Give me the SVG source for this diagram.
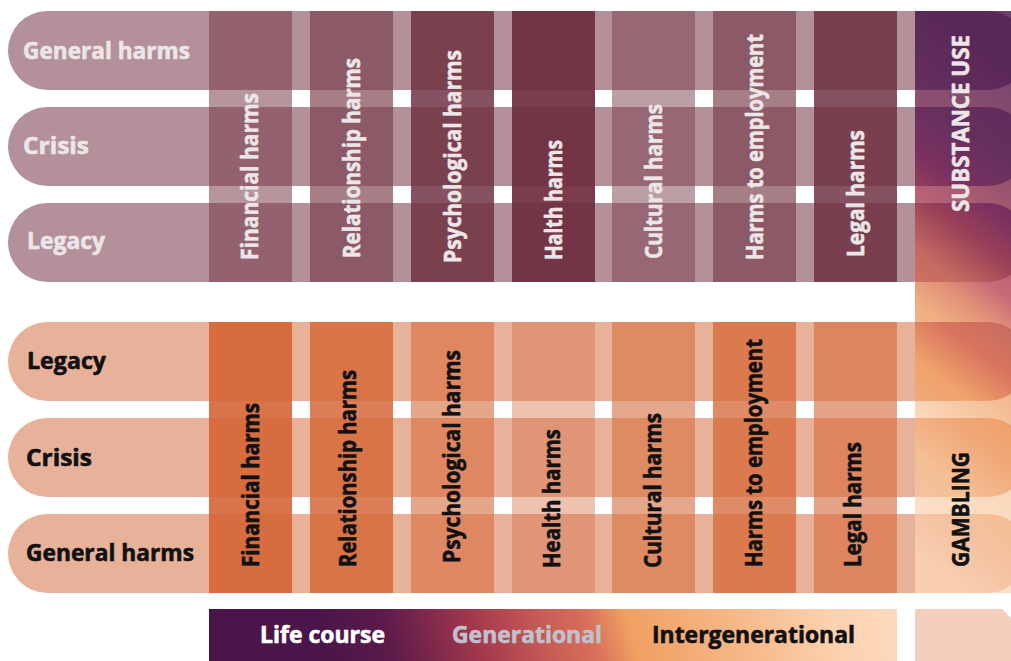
<svg xmlns="http://www.w3.org/2000/svg" width="1011" height="661" viewBox="0 0 1011 661">
  <defs>
    <style>
      .lbl { font-family: "Open Sans", Lato, "Liberation Sans", sans-serif; font-weight: 700; font-size: 23px; stroke-width: 0.6px; stroke-linejoin: round; }
      .vlbl { font-family: "Open Sans", Lato, "Liberation Sans", sans-serif; font-weight: 700; font-size: 24px; stroke-width: 0.6px; stroke-linejoin: round; }
      .light { fill: #ece6e8; stroke: #ece6e8; }
      .dark { fill: #111111; stroke: #111111; }
      .white { fill: #ffffff; stroke: #ffffff; }
      .lav { fill: #c2c1cd; stroke: #c2c1cd; }
      .pillTop { fill: #b4919a; }
      .pillBot { fill: #e8b29a; }
    </style>
    <!-- diagonal wash for the side strip -->
    <linearGradient id="stripBg" gradientUnits="userSpaceOnUse" x1="1011" y1="0" x2="711" y2="400">
      <stop offset="0" stop-color="#6a4070"/>
      <stop offset="0.272" stop-color="#8e4f6e"/>
      <stop offset="0.48" stop-color="#c86a78"/>
      <stop offset="0.534" stop-color="#e09078"/>
      <stop offset="0.596" stop-color="#f0ad80"/>
      <stop offset="0.772" stop-color="#fad8b8"/>
      <stop offset="0.948" stop-color="#fde0c8"/>
    </linearGradient>
    <linearGradient id="stripPill" gradientUnits="userSpaceOnUse" x1="1011" y1="0" x2="711" y2="400">
      <stop offset="0.116" stop-color="#5a2858"/>
      <stop offset="0.266" stop-color="#66305e"/>
      <stop offset="0.356" stop-color="#7a3060"/>
      <stop offset="0.426" stop-color="#9a4058"/>
      <stop offset="0.516" stop-color="#c46c60"/>
      <stop offset="0.602" stop-color="#d8745e"/>
      <stop offset="0.692" stop-color="#f0a46c"/>
      <stop offset="0.746" stop-color="#f0a878"/>
      <stop offset="0.844" stop-color="#f5bf95"/>
      <stop offset="0.906" stop-color="#f4c0a0"/>
      <stop offset="0.996" stop-color="#f8cdb0"/>
    </linearGradient>
    <linearGradient id="legendBg" gradientUnits="userSpaceOnUse" x1="270" y1="680" x2="870" y2="520">
      <stop offset="0.1" stop-color="#4a1548"/>
      <stop offset="0.2" stop-color="#5c1a4a"/>
      <stop offset="0.34" stop-color="#a3384c"/>
      <stop offset="0.44" stop-color="#c55a55"/>
      <stop offset="0.52" stop-color="#d8705a"/>
      <stop offset="0.58" stop-color="#f0a062"/>
      <stop offset="0.75" stop-color="#f6b888"/>
      <stop offset="0.9" stop-color="#fcd2b0"/>
      <stop offset="1" stop-color="#fdd9bd"/>
    </linearGradient>
  </defs>

  <!-- upper block rows (substance use) -->
  <g id="row-top-general"><path class="pillTop" d="M47.5,11 H915 V90 H47.5 A39.5,39.5 0 0 1 47.5,11 Z"/></g>
  <g id="row-top-crisis"><path class="pillTop" d="M47.5,107 H915 V186 H47.5 A39.5,39.5 0 0 1 47.5,107 Z"/></g>
  <g id="row-top-legacy"><path class="pillTop" d="M47.5,203 H915 V282 H47.5 A39.5,39.5 0 0 1 47.5,203 Z"/></g>

  <!-- lower block rows (gambling) -->
  <g id="row-bot-legacy"><path class="pillBot" d="M47.5,322 H915 V401 H47.5 A39.5,39.5 0 0 1 47.5,322 Z"/></g>
  <g id="row-bot-crisis"><path class="pillBot" d="M47.5,418 H915 V497 H47.5 A39.5,39.5 0 0 1 47.5,418 Z"/></g>
  <g id="row-bot-general"><path class="pillBot" d="M47.5,514 H915 V593 H47.5 A39.5,39.5 0 0 1 47.5,514 Z"/></g>

  <!-- upper harm columns -->
  <g id="col-top-financial">
    <rect x="209" y="11" width="83" height="271" fill="#93626e"/>
    <rect x="209" y="90" width="83" height="17" fill="#b6959c"/>
    <rect x="209" y="186" width="83" height="17" fill="#b6959c"/>
  </g>
  <g id="col-top-relationship">
    <rect x="310" y="11" width="83" height="271" fill="#8b5a66"/>
    <rect x="310" y="90" width="83" height="17" fill="#a87e86"/>
    <rect x="310" y="186" width="83" height="17" fill="#a87e86"/>
  </g>
  <g id="col-top-psychological">
    <rect x="411" y="11" width="83" height="271" fill="#7a404e"/>
    <rect x="411" y="90" width="83" height="17" fill="#865262"/>
    <rect x="411" y="186" width="83" height="17" fill="#865262"/>
  </g>
  <g id="col-top-health">
    <rect x="512" y="11" width="83" height="271" fill="#733546"/>
    <rect x="512" y="90" width="83" height="17" fill="#7b3d4c"/>
    <rect x="512" y="186" width="83" height="17" fill="#7b3d4c"/>
  </g>
  <g id="col-top-cultural">
    <rect x="612" y="11" width="83" height="271" fill="#976873"/>
    <rect x="612" y="90" width="83" height="17" fill="#bc9ea5"/>
    <rect x="612" y="186" width="83" height="17" fill="#bc9ea5"/>
  </g>
  <g id="col-top-employment">
    <rect x="713" y="11" width="83" height="271" fill="#8b5a66"/>
    <rect x="713" y="90" width="83" height="17" fill="#a67f86"/>
    <rect x="713" y="186" width="83" height="17" fill="#a67f86"/>
  </g>
  <g id="col-top-legal">
    <rect x="814" y="11" width="83" height="271" fill="#7a3f4e"/>
    <rect x="814" y="90" width="83" height="17" fill="#865262"/>
    <rect x="814" y="186" width="83" height="17" fill="#865262"/>
  </g>

  <!-- lower harm columns -->
  <g id="col-bot-financial">
    <rect x="209" y="322" width="83" height="271" fill="#d76d3e"/>
    <rect x="209" y="401" width="83" height="17" fill="#d9744a"/>
    <rect x="209" y="497" width="83" height="17" fill="#d9744a"/>
  </g>
  <g id="col-bot-relationship">
    <rect x="310" y="322" width="83" height="271" fill="#d97447"/>
    <rect x="310" y="401" width="83" height="17" fill="#dc7f58"/>
    <rect x="310" y="497" width="83" height="17" fill="#dc7f58"/>
  </g>
  <g id="col-bot-psychological">
    <rect x="411" y="322" width="83" height="271" fill="#df8762"/>
    <rect x="411" y="401" width="83" height="17" fill="#e6a68a"/>
    <rect x="411" y="497" width="83" height="17" fill="#e6a68a"/>
  </g>
  <g id="col-bot-health">
    <rect x="512" y="322" width="83" height="271" fill="#e09576"/>
    <rect x="512" y="401" width="83" height="17" fill="#edc3b0"/>
    <rect x="512" y="497" width="83" height="17" fill="#edc3b0"/>
  </g>
  <g id="col-bot-cultural">
    <rect x="612" y="322" width="83" height="271" fill="#de8a63"/>
    <rect x="612" y="401" width="83" height="17" fill="#e6a88c"/>
    <rect x="612" y="497" width="83" height="17" fill="#e6a88c"/>
  </g>
  <g id="col-bot-employment">
    <rect x="713" y="322" width="83" height="271" fill="#dc7a4f"/>
    <rect x="713" y="401" width="83" height="17" fill="#e08b68"/>
    <rect x="713" y="497" width="83" height="17" fill="#e08b68"/>
  </g>
  <g id="col-bot-legal">
    <rect x="814" y="322" width="83" height="271" fill="#de8560"/>
    <rect x="814" y="401" width="83" height="17" fill="#e4a386"/>
    <rect x="814" y="497" width="83" height="17" fill="#e4a386"/>
  </g>

  <!-- side strip: substance use to gambling -->
  <g id="strip">
    <rect x="915" y="11" width="96" height="582" fill="url(#stripBg)"/>
    <path fill="url(#stripPill)" d="M915,11 H988 A39.5,39.5 0 0 1 988,90 H915 Z"/>
    <path fill="url(#stripPill)" d="M915,107 H988 A39.5,39.5 0 0 1 988,186 H915 Z"/>
    <path fill="url(#stripPill)" d="M915,203 H988 A39.5,39.5 0 0 1 988,282 H915 Z"/>
    <path fill="url(#stripPill)" d="M915,322 H988 A39.5,39.5 0 0 1 988,401 H915 Z"/>
    <path fill="url(#stripPill)" d="M915,418 H988 A39.5,39.5 0 0 1 988,497 H915 Z"/>
    <path fill="url(#stripPill)" d="M915,514 H988 A39.5,39.5 0 0 1 988,593 H915 Z"/>
    <text class="vlbl light" transform="translate(969,212) rotate(-90)" textLength="177" lengthAdjust="spacingAndGlyphs">SUBSTANCE USE</text>
    <text class="vlbl dark" transform="translate(969,567) rotate(-90)" textLength="115" lengthAdjust="spacingAndGlyphs">GAMBLING</text>
  </g>

  <!-- row labels -->
  <g id="labels-rows">
    <text class="lbl light" x="23" y="59" textLength="167" lengthAdjust="spacingAndGlyphs">General harms</text>
    <text class="lbl light" x="23" y="154" textLength="66" lengthAdjust="spacingAndGlyphs">Crisis</text>
    <text class="lbl light" x="27" y="249" textLength="78" lengthAdjust="spacingAndGlyphs">Legacy</text>
    <text class="lbl dark" x="27" y="369" textLength="79" lengthAdjust="spacingAndGlyphs">Legacy</text>
    <text class="lbl dark" x="26" y="466" textLength="66" lengthAdjust="spacingAndGlyphs">Crisis</text>
    <text class="lbl dark" x="26" y="561" textLength="168" lengthAdjust="spacingAndGlyphs">General harms</text>
  </g>

  <!-- column labels -->
  <g id="labels-cols-top">
    <text class="vlbl light" transform="translate(258,260) rotate(-90)" textLength="167" lengthAdjust="spacingAndGlyphs">Financial harms</text>
    <text class="vlbl light" transform="translate(360,258) rotate(-90)" textLength="200" lengthAdjust="spacingAndGlyphs">Relationship harms</text>
    <text class="vlbl light" transform="translate(461,263) rotate(-90)" textLength="213" lengthAdjust="spacingAndGlyphs">Psychological harms</text>
    <text class="vlbl light" transform="translate(562,260) rotate(-90)" textLength="120" lengthAdjust="spacingAndGlyphs">Halth harms</text>
    <text class="vlbl light" transform="translate(662,259) rotate(-90)" textLength="155" lengthAdjust="spacingAndGlyphs">Cultural harms</text>
    <text class="vlbl light" transform="translate(763,260) rotate(-90)" textLength="226" lengthAdjust="spacingAndGlyphs">Harms to employment</text>
    <text class="vlbl light" transform="translate(864,257) rotate(-90)" textLength="127" lengthAdjust="spacingAndGlyphs">Legal harms</text>
  </g>
  <g id="labels-cols-bottom">
    <text class="vlbl dark" transform="translate(259,567) rotate(-90)" textLength="164" lengthAdjust="spacingAndGlyphs">Financial harms</text>
    <text class="vlbl dark" transform="translate(356,567) rotate(-90)" textLength="197" lengthAdjust="spacingAndGlyphs">Relationship harms</text>
    <text class="vlbl dark" transform="translate(460,563) rotate(-90)" textLength="213" lengthAdjust="spacingAndGlyphs">Psychological harms</text>
    <text class="vlbl dark" transform="translate(560,568) rotate(-90)" textLength="139" lengthAdjust="spacingAndGlyphs">Health harms</text>
    <text class="vlbl dark" transform="translate(661,568) rotate(-90)" textLength="155" lengthAdjust="spacingAndGlyphs">Cultural harms</text>
    <text class="vlbl dark" transform="translate(762,567) rotate(-90)" textLength="228" lengthAdjust="spacingAndGlyphs">Harms to employment</text>
    <text class="vlbl dark" transform="translate(861,567) rotate(-90)" textLength="125" lengthAdjust="spacingAndGlyphs">Legal harms</text>
  </g>

  <!-- time-scale legend -->
  <g id="legend">
    <rect x="209" y="609" width="688" height="52" fill="url(#legendBg)"/>
    <text class="lbl white" x="260" y="643" textLength="125" lengthAdjust="spacingAndGlyphs">Life course</text>
    <text class="lbl lav" x="452" y="643" textLength="150" lengthAdjust="spacingAndGlyphs">Generational</text>
    <text class="lbl dark" x="652" y="643" textLength="203" lengthAdjust="spacingAndGlyphs">Intergenerational</text>
  </g>
  <g id="legend-tab">
    <polygon points="915,609 1002,609 1011,618 1011,661 915,661" fill="#f5cfbd"/>
  </g>
</svg>
